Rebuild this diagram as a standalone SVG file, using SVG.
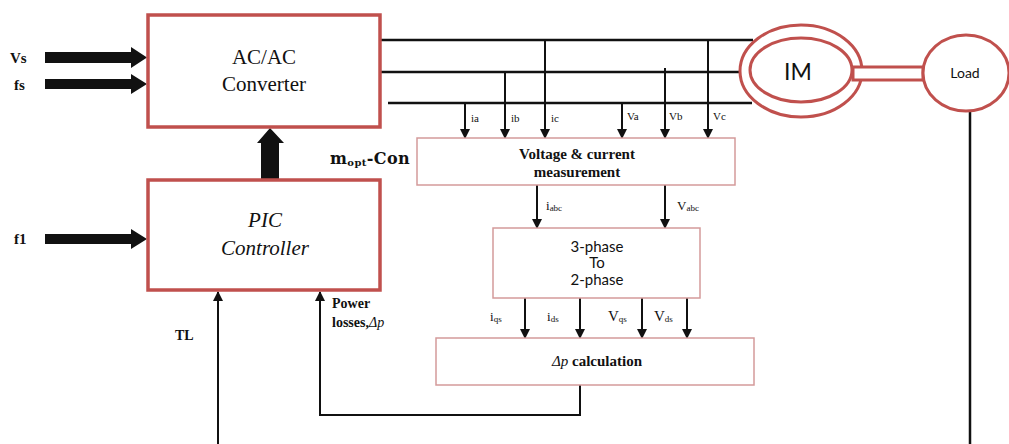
<svg xmlns="http://www.w3.org/2000/svg" width="1009" height="444" viewBox="0 0 1009 444">
<style>
.blk{fill:#fff;stroke:#c0504d;stroke-width:3.5}
.sub{fill:#fff;stroke:#d49a9a;stroke-width:1.5}
.wire{stroke:#111;stroke-width:2.5;fill:none}
.tap{stroke:#111;stroke-width:2;fill:none;marker-end:url(#ah)}
.ser{font-family:"Liberation Serif","DejaVu Serif",serif;fill:#111}
.b{font-weight:bold}
.san{font-family:Lato,"Open Sans",sans-serif;fill:#111}
.red{fill:#fff;stroke:#c0504d;stroke-width:3}
</style>
<defs>
<marker id="ah" markerUnits="userSpaceOnUse" markerWidth="10" markerHeight="10" refX="9" refY="5" orient="auto">
<path d="M0,0 L10,5 L0,10 z" fill="#111"/>
</marker>
</defs>
<rect width="1009" height="444" fill="#fff"/>

<g id="connectors">
<path d="M45,52 H131 V47 L147,57.5 L131,68 V63 H45 z" fill="#111"/>
<path d="M45,79 H131 V74 L147,84 L131,94 V89 H45 z" fill="#111"/>
<path d="M45,234 H131 V229 L147,239 L131,249 V244 H45 z" fill="#111"/>
<path d="M261,180 V143 H257 L270,128 L284,143 H279 V180 z" fill="#111"/>
<line class="wire" x1="380" y1="40" x2="753" y2="40"/>
<line class="wire" x1="380" y1="72" x2="741" y2="72"/>
<line class="wire" x1="388" y1="103" x2="752" y2="103"/>
<line class="tap" x1="465" y1="103" x2="465" y2="138"/>
<line class="tap" x1="505" y1="72" x2="505" y2="138"/>
<line class="tap" x1="545" y1="40" x2="545" y2="138"/>
<line class="tap" x1="622" y1="103" x2="622" y2="138"/>
<line class="tap" x1="665" y1="68" x2="665" y2="138"/>
<line class="tap" x1="708" y1="40" x2="708" y2="138"/>
<line class="tap" x1="537" y1="185" x2="537" y2="228"/>
<line class="tap" x1="665" y1="185" x2="665" y2="228"/>
<line class="tap" x1="525" y1="298" x2="525" y2="338"/>
<line class="tap" x1="580" y1="298" x2="580" y2="338"/>
<line class="tap" x1="642" y1="298" x2="642" y2="338"/>
<line class="tap" x1="687" y1="298" x2="687" y2="338"/>
<polyline class="tap" points="580,385 580,415 320,415 320,292"/>
<line class="tap" x1="218" y1="444" x2="218" y2="292"/>
<line class="wire" x1="970" y1="112" x2="970" y2="444"/>
</g>

<g id="ac-ac-converter">
<rect class="blk" x="148" y="15" width="232" height="112"/>
<text class="ser" x="264" y="64" font-size="21" text-anchor="middle">AC/AC</text>
<text class="ser" x="264" y="91" font-size="21" text-anchor="middle">Converter</text>
</g>

<g id="pic-controller">
<rect class="blk" x="148" y="180" width="232" height="110"/>
<text class="ser" x="265" y="227" font-size="21" font-style="italic" text-anchor="middle">PIC</text>
<text class="ser" x="265" y="255" font-size="21" font-style="italic" text-anchor="middle">Controller</text>
</g>

<g id="labels">
<text class="ser b" x="10" y="63" font-size="15">Vs</text>
<text class="ser b" x="14" y="90" font-size="15">fs</text>
<text class="ser b" x="14" y="244" font-size="15">f1</text>
<text class="ser b" x="175" y="340" font-size="14">TL</text>
<text class="ser b" x="332" y="308" font-size="14">Power</text>
<text class="ser b" x="332" y="327" font-size="14">losses,<tspan font-weight="normal" font-style="italic">Δp</tspan></text>
<text x="330" y="164" font-size="16" font-weight="bold" font-family="'DejaVu Serif',serif" fill="#111" letter-spacing="0.4">m<tspan font-size="10" dy="2">opt</tspan><tspan dy="-2">-Con</tspan></text>
</g>

<g id="measurement">
<rect class="sub" x="417" y="138" width="318" height="47"/>
<text class="ser b" x="577" y="159" font-size="15" text-anchor="middle">Voltage &amp; current</text>
<text class="ser b" x="577" y="177" font-size="15" text-anchor="middle">measurement</text>
</g>

<g id="tap-labels">
<text class="ser" x="471" y="122" font-size="11">ia</text>
<text class="ser" x="511" y="122" font-size="11">ib</text>
<text class="ser" x="551" y="122" font-size="11">ic</text>
<text class="ser" x="627" y="120" font-size="11">Va</text>
<text class="ser" x="669" y="120" font-size="11">Vb</text>
<text class="ser" x="713" y="120" font-size="11">Vc</text>
<text class="ser" x="546" y="210" font-size="13">i<tspan font-size="9" dy="1">abc</tspan></text>
<text class="ser" x="677" y="210" font-size="13">V<tspan font-size="9" dy="1">abc</tspan></text>
<text class="ser" x="490" y="321" font-size="13">i<tspan font-size="9" dy="1">qs</tspan></text>
<text class="ser" x="547" y="321" font-size="13">i<tspan font-size="9" dy="1">ds</tspan></text>
<text class="ser" x="608" y="321" font-size="15">V<tspan font-size="9" dy="1">qs</tspan></text>
<text class="ser" x="654" y="321" font-size="15">V<tspan font-size="9" dy="1">ds</tspan></text>
</g>

<g id="three-to-two-phase">
<rect class="sub" x="493" y="228" width="207" height="70"/>
<text class="san" x="597" y="252" font-size="15" text-anchor="middle">3-phase</text>
<text class="san" x="597" y="268" font-size="15" text-anchor="middle">To</text>
<text class="san" x="597" y="285" font-size="15" text-anchor="middle">2-phase</text>
</g>

<g id="dp-calculation">
<rect class="sub" x="436" y="338" width="318" height="47"/>
<text class="ser b" x="597" y="366" font-size="15" text-anchor="middle"><tspan font-weight="normal" font-style="italic">Δp</tspan> calculation</text>
</g>

<g id="induction-motor">
<ellipse class="red" cx="801" cy="71" rx="61" ry="46"/>
<ellipse class="red" cx="801" cy="70" rx="51" ry="32"/>
<text class="san" x="798" y="80" font-size="23" text-anchor="middle">IM</text>
</g>

<g id="shaft">
<rect class="red" x="853" y="67" width="70" height="13" stroke-width="2"/>
</g>

<g id="load">
<ellipse class="red" cx="966" cy="73" rx="43" ry="38"/>
<text class="san" x="965" y="78" font-size="14" text-anchor="middle">Load</text>
</g>
</svg>
